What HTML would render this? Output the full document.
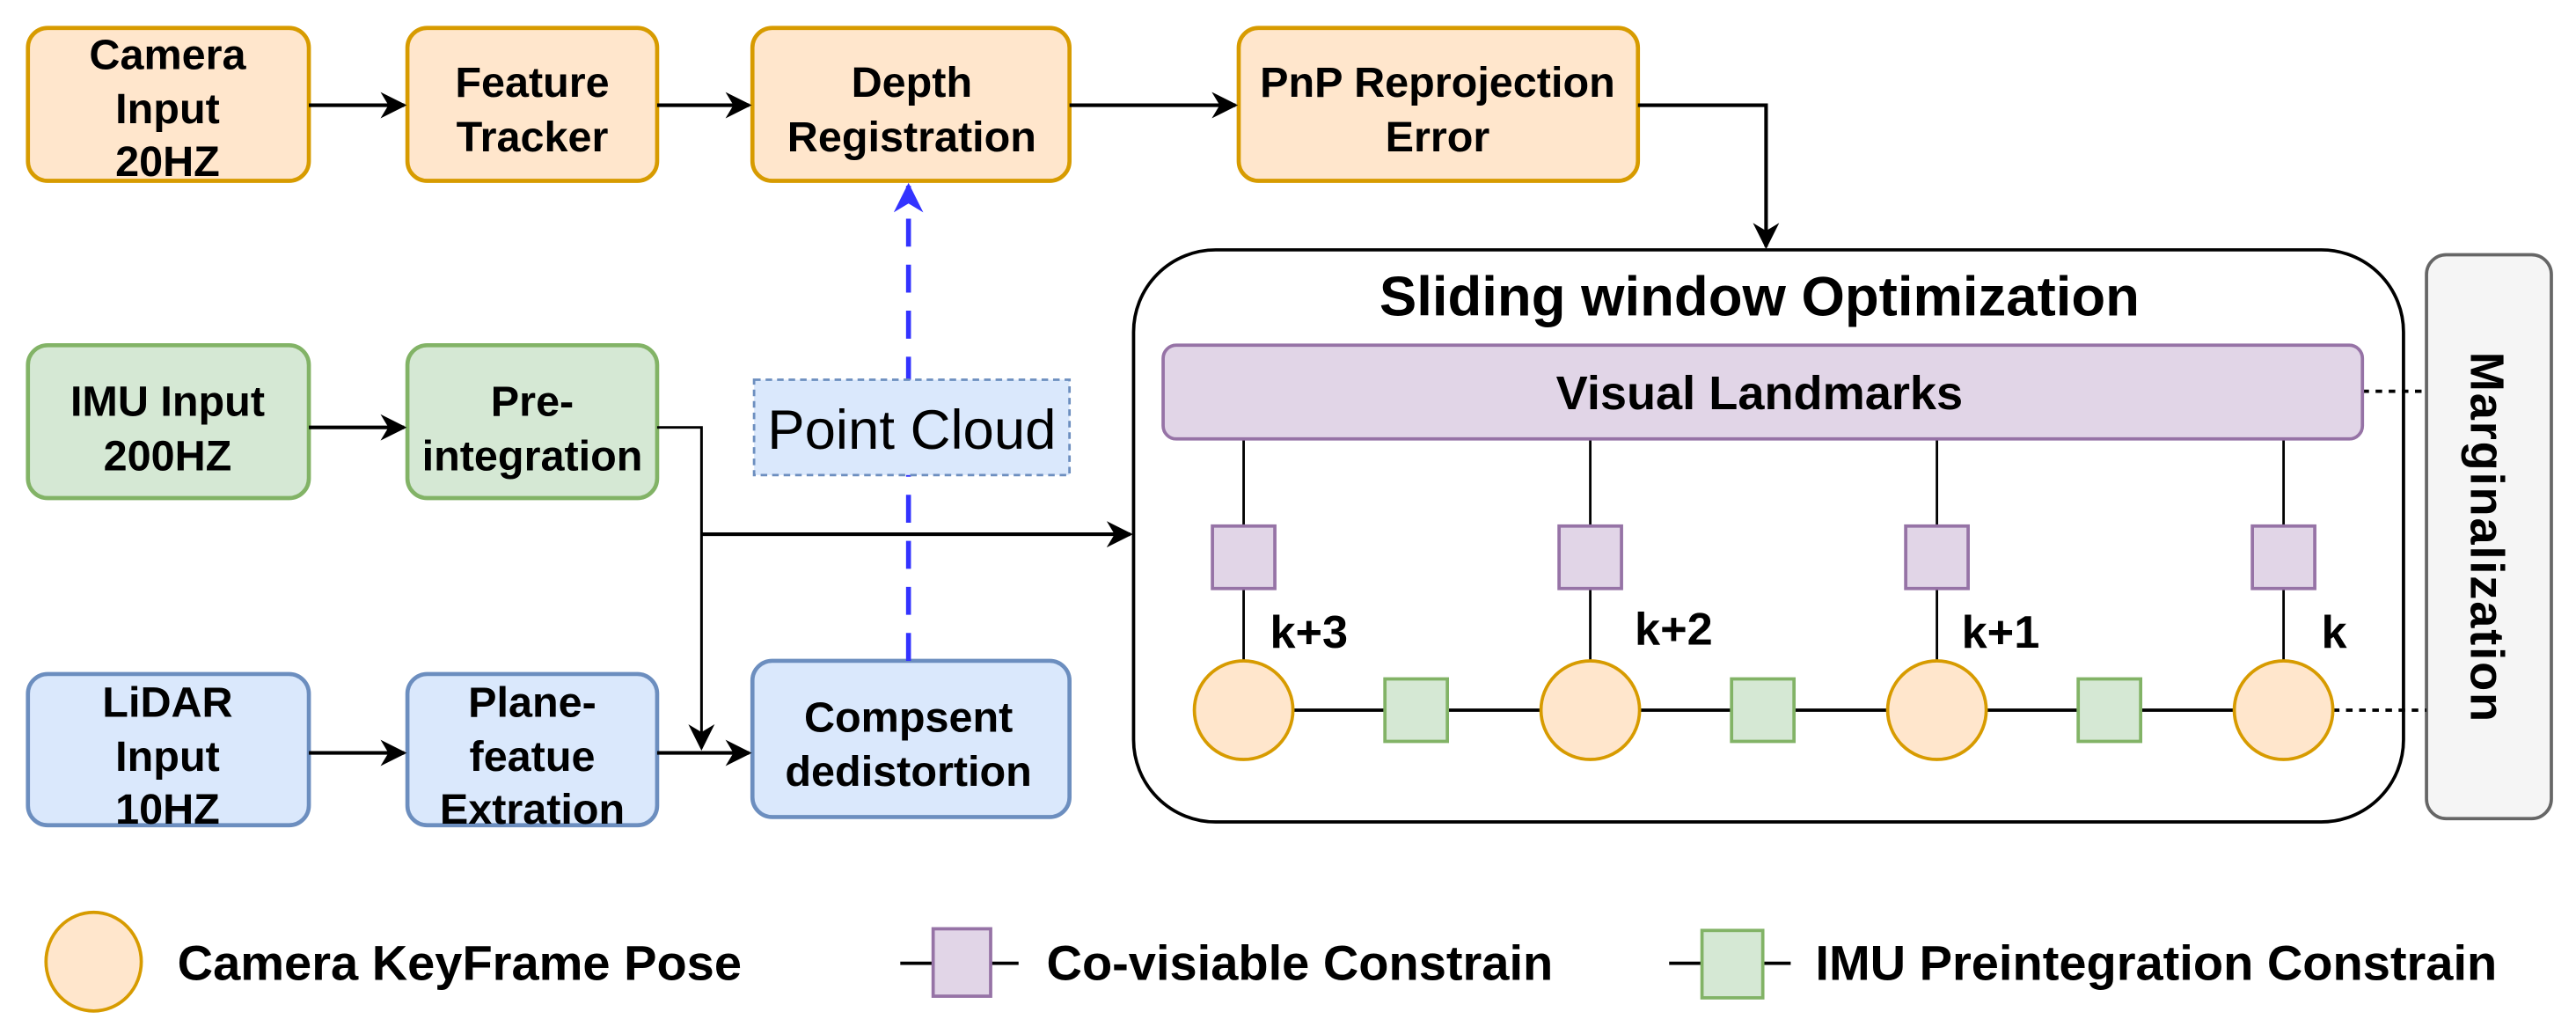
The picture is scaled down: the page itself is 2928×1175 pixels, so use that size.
<!DOCTYPE html>
<html><head><meta charset="utf-8"><style>
html,body{margin:0;padding:0;background:#fff;}
svg{display:block;}
text{font-family:"Liberation Sans",Arial,sans-serif;font-weight:bold;fill:#000;}
</style></head><body>
<svg width="2928" height="1175" viewBox="0 0 1568 629" preserveAspectRatio="none" xmlns="http://www.w3.org/2000/svg">
<defs>
<marker id="arb" viewBox="0 0 10 10" refX="9" refY="5" markerWidth="18" markerHeight="18" orient="auto" markerUnits="userSpaceOnUse">
<path d="M0,0 L10,5 L0,10 L3,5 z" fill="#3333ff"/></marker>
<marker id="ar2" viewBox="0 0 10 10" refX="9" refY="5" markerWidth="16" markerHeight="16" orient="auto" markerUnits="userSpaceOnUse">
<path d="M0,0 L10,5 L0,10 L3,5 z" fill="#000"/></marker>
</defs>
<g stroke-width="2.5">
<rect x="17" y="17" width="171" height="93" rx="12" fill="#ffe6cc" stroke="#d79b00"/>
<rect x="248" y="17" width="152" height="93" rx="12" fill="#ffe6cc" stroke="#d79b00"/>
<rect x="458" y="17" width="193" height="93" rx="12" fill="#ffe6cc" stroke="#d79b00"/>
<rect x="754" y="17" width="243" height="93" rx="12" fill="#ffe6cc" stroke="#d79b00"/>
<rect x="17" y="210" width="171" height="93" rx="12" fill="#d5e8d4" stroke="#82b366"/>
<rect x="248" y="210" width="152" height="93" rx="12" fill="#d5e8d4" stroke="#82b366"/>
<rect x="17" y="410" width="171" height="92" rx="12" fill="#dae8fc" stroke="#6c8ebf"/>
<rect x="248" y="410" width="152" height="92" rx="12" fill="#dae8fc" stroke="#6c8ebf"/>
<rect x="458" y="402" width="193" height="95" rx="12" fill="#dae8fc" stroke="#6c8ebf"/>
</g>
<g stroke="#000" stroke-width="2.2" fill="none">
<line x1="188" y1="64" x2="246" y2="64" marker-end="url(#ar2)"/>
<line x1="400" y1="64" x2="456" y2="64" marker-end="url(#ar2)"/>
<line x1="651" y1="64" x2="752" y2="64" marker-end="url(#ar2)"/>
<polyline points="997,64 1075,64 1075,150" marker-end="url(#ar2)"/>
<line x1="188" y1="260" x2="246" y2="260" marker-end="url(#ar2)"/>
<polyline points="400,260 427,260 427,455" stroke-width="1.6" marker-end="url(#ar2)"/>
<line x1="427" y1="325" x2="688" y2="325" marker-end="url(#ar2)"/>
<line x1="188" y1="458" x2="246" y2="458" marker-end="url(#ar2)"/>
<line x1="400" y1="458" x2="456" y2="458" marker-end="url(#ar2)"/>
</g>
<line x1="553" y1="402" x2="553" y2="113" stroke="#3333ff" stroke-width="3" stroke-dasharray="17,11" marker-end="url(#arb)"/>
<rect x="459" y="231" width="192" height="58" fill="#dae8fc" stroke="#6c8ebf" stroke-width="1.5" stroke-dasharray="4,3"/>
<text x="555" y="273" font-size="34" text-anchor="middle" style="font-weight:normal">Point Cloud</text>
<g font-size="26" text-anchor="middle">
<text x="102" y="42">Camera</text><text x="102" y="75">Input</text><text x="102" y="107">20HZ</text>
<text x="324" y="59">Feature</text><text x="324" y="92">Tracker</text>
<text x="555" y="59">Depth</text><text x="555" y="92">Registration</text>
<text x="875" y="59">PnP Reprojection</text><text x="875" y="92">Error</text>
<text x="102" y="253">IMU Input</text><text x="102" y="286">200HZ</text>
<text x="324" y="253">Pre-</text><text x="324" y="286">integration</text>
<text x="102" y="436">LiDAR</text><text x="102" y="469">Input</text><text x="102" y="501">10HZ</text>
<text x="324" y="436">Plane-</text><text x="324" y="469">featue</text><text x="324" y="501">Extration</text>
<text x="553" y="445">Compsent</text><text x="553" y="478">dedistortion</text>
</g>
<rect x="690" y="152" width="773" height="348" rx="50" fill="none" stroke="#000" stroke-width="2"/>
<text x="1071" y="192" font-size="34" text-anchor="middle">Sliding window Optimization</text>
<rect x="1477" y="155" width="76" height="343" rx="12" fill="#f5f5f5" stroke="#666" stroke-width="2"/>
<text transform="translate(1504,327) rotate(90)" font-size="29" text-anchor="middle" letter-spacing="1">Marginalization</text>
<g stroke="#000" stroke-width="1.5">
<line x1="757" y1="267" x2="757" y2="404"/><line x1="968" y1="267" x2="968" y2="404"/>
<line x1="1179" y1="267" x2="1179" y2="404"/><line x1="1390" y1="267" x2="1390" y2="404"/>
</g>
<line x1="787" y1="432" x2="1362" y2="432" stroke="#000" stroke-width="2"/>
<g stroke="#000" stroke-width="2" stroke-dasharray="4,4">
<line x1="1438" y1="238" x2="1477" y2="238"/><line x1="1420" y1="432" x2="1477" y2="432"/>
</g>
<rect x="708" y="210" width="730" height="57" rx="8" fill="#e1d5e7" stroke="#9673a6" stroke-width="2"/>
<text x="1071" y="249" font-size="29" text-anchor="middle">Visual Landmarks</text>
<g fill="#e1d5e7" stroke="#9673a6" stroke-width="2">
<rect x="738" y="320" width="38" height="38"/><rect x="949" y="320" width="38" height="38"/>
<rect x="1160" y="320" width="38" height="38"/><rect x="1371" y="320" width="38" height="38"/>
</g>
<g fill="#d5e8d4" stroke="#82b366" stroke-width="2">
<rect x="843" y="413" width="38" height="38"/><rect x="1054" y="413" width="38" height="38"/><rect x="1265" y="413" width="38" height="38"/>
</g>
<g fill="#ffe6cc" stroke="#d79b00" stroke-width="2">
<ellipse cx="757" cy="432" rx="30" ry="30"/><ellipse cx="968" cy="432" rx="30" ry="30"/>
<ellipse cx="1179" cy="432" rx="30" ry="30"/><ellipse cx="1390" cy="432" rx="30" ry="30"/>
</g>
<g font-size="28">
<text x="773" y="394">k+3</text><text x="995" y="392">k+2</text><text x="1194" y="394">k+1</text><text x="1413" y="394">k</text>
</g>
<ellipse cx="57" cy="585" rx="29" ry="30" fill="#ffe6cc" stroke="#d79b00" stroke-width="2"/>
<text x="108" y="596" font-size="30">Camera KeyFrame Pose</text>
<g stroke="#000" stroke-width="2"><line x1="548" y1="586" x2="620" y2="586"/><line x1="1016" y1="586" x2="1090" y2="586"/></g>
<rect x="568" y="565" width="35" height="41" fill="#e1d5e7" stroke="#9673a6" stroke-width="2"/>
<text x="637" y="596" font-size="30">Co-visiable Constrain</text>
<rect x="1036" y="566" width="37" height="41" fill="#d5e8d4" stroke="#82b366" stroke-width="2"/>
<text x="1105" y="596" font-size="30">IMU Preintegration Constrain</text>
</svg>
</body></html>
